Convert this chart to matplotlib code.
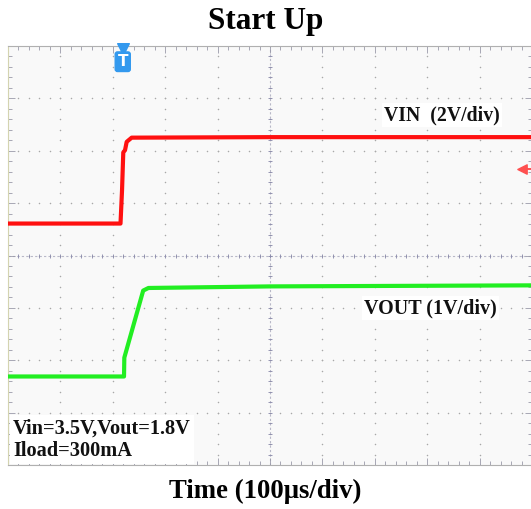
import numpy as np
import matplotlib
matplotlib.use("Agg")
from matplotlib import pyplot as plt

# scope trace vertices, in divisions (time: 0..10 div, volts: -4..4 div)
t_vin = [0.0, 2.147, 2.176, 2.20, 2.233, 2.265, 2.36, 5.0, 9.98]
v_vin = [0.61, 0.61, 1.24, 1.97, 2.01, 2.17, 2.25, 2.26, 2.26]

t_vout = [0.0, 2.214, 2.22, 2.58, 2.68, 5.0, 9.98]
v_vout = [-2.31, -2.31, -1.95, -0.67, -0.62, -0.59, -0.57]

trig_t = 2.19
trig_level = 1.66

title = "Start Up"
xlabel = "Time (100\u03bcs/div)"
vin_label = "VIN  (2V/div)"
vout_label = "VOUT (1V/div)"
cond_text = "Vin=3.5V,Vout=1.8V\nIload=300mA"

W, H = 531, 509
fig = plt.figure(figsize=(W / 100, H / 100), dpi=100)
serif = ["Liberation Serif", "DejaVu Serif"]

ax = fig.add_axes([8 / W, 44 / H, 524 / W, 419 / H])
ax.set_facecolor("#f9f9f9")
ax.set_xlim(0, 10)
ax.set_ylim(-4, 4)

# dotted graticule
gx, gy = np.meshgrid(np.arange(1, 10), np.arange(-4, 4.01, 0.2))
ax.scatter(gx.ravel(), gy.ravel(), s=1.2, color="#a8a8a8", lw=0, zorder=1)
gx, gy = np.meshgrid(np.arange(0, 10.01, 0.2), np.arange(-3, 4))
ax.scatter(gx.ravel(), gy.ravel(), s=1.2, color="#a8a8a8", lw=0, zorder=1)

# centre cross with small ticks
ax.axhline(0, color="#b8b8c8", lw=0.8, ls=(0, (2, 2)), zorder=1)
ax.axvline(5, color="#b8b8c8", lw=0.8, ls=(0, (2, 2)), zorder=1)
mt = np.arange(0, 10.01, 0.2)
ax.scatter(mt, np.zeros_like(mt), marker="|", s=12, color="#8888aa", lw=0.6, zorder=1)
mv = np.arange(-4, 4.01, 0.2)
ax.scatter(np.full_like(mv, 5), mv, marker="_", s=12, color="#8888aa", lw=0.6, zorder=1)

ax.set_xticks(np.arange(0, 11, 1))
ax.set_yticks(np.arange(-4, 5, 1))
ax.set_xticks(np.arange(0, 10.01, 0.2), minor=True)
ax.set_yticks(np.arange(-4, 4.01, 0.2), minor=True)
ax.tick_params(which="both", direction="in", top=True, right=True,
               labelbottom=False, labelleft=False, color="#9a9aaa", width=0.6)
ax.tick_params(which="major", length=5)
ax.tick_params(which="minor", length=3)
for s in ax.spines.values():
    s.set_color("#b0b0b0")
    s.set_linewidth(0.8)
ax.spines["left"].set_color("#d4d4b0")

# traces
ax.plot(t_vin, v_vin, color="#ff1010", lw=3.0, solid_joinstyle="round", zorder=3)
ax.plot(t_vout, v_vout, color="#22ee22", lw=3.0, solid_joinstyle="round", zorder=3)

# trigger marker (T) and trigger level arrow
ax.scatter([trig_t], [3.94], marker="v", s=70, color="#3399ee", zorder=4, clip_on=False)
ax.text(trig_t, 3.7, "T", ha="center", va="center", color="white",
        fontsize=11, fontweight="bold", zorder=5,
        bbox=dict(boxstyle="round,pad=0.15", fc="#3399ee", ec="#3399ee"))
ax.scatter([9.81], [trig_level], marker="<", s=45, color="#ff5050", zorder=4)
ax.plot([9.81, 10], [trig_level, trig_level], color="#ff5050", lw=1.4, zorder=4)

# labels on the screen
box = dict(boxstyle="square,pad=0.1", fc="white", ec="none")
ax.text(8.28, 2.68, vin_label, family=serif, fontsize=14.2, fontweight="bold",
        ha="center", va="center", color="#111111", bbox=box, zorder=6)
ax.text(8.07, -1.01, vout_label, family=serif, fontsize=14.5, fontweight="bold",
        ha="center", va="center", color="#111111", bbox=box, zorder=6)
ax.text(0.1, -3.52, cond_text, family=serif, fontsize=14.7, fontweight="bold",
        ha="left", va="center", color="#111111", linespacing=1.2,
        bbox=dict(boxstyle="square,pad=0.15", fc="white", ec="none"), zorder=6)

fig.text(0.5, 1 - 21 / H, title, family=serif, fontsize=22.5, fontweight="bold",
         ha="center", va="center")
fig.text(0.5, 1 - 491 / H, xlabel, family=serif, fontsize=19.3, fontweight="bold",
         ha="center", va="center")

fig.savefig("out.png", dpi=100)
